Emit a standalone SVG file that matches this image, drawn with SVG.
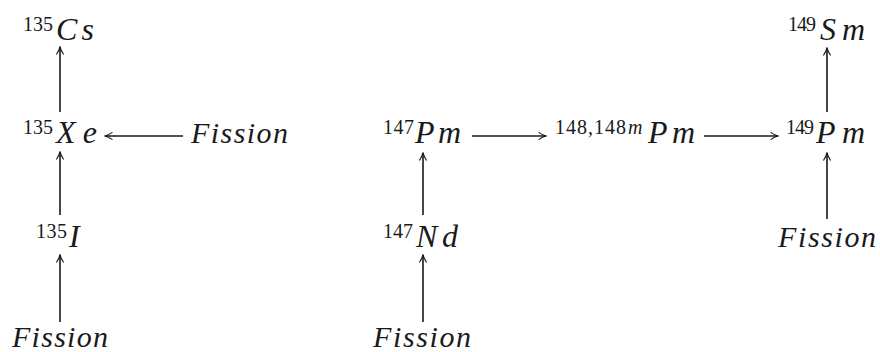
<svg xmlns="http://www.w3.org/2000/svg" width="880" height="352" viewBox="0 0 880 352">
  <style>
    text { font-family: 'Liberation Serif', 'Times New Roman', 'DejaVu Serif', serif; fill: #1a1a1a; }
    .m { font-style: italic; font-size: 30px; }
    .w { font-style: italic; font-size: 32px; }
    .s { font-size: 20px; }
    .si { font-style: italic; font-size: 20px; }
    .c line { stroke: #1a1a1a; stroke-width: 1.6; marker-end: url(#ah); }
  </style>
  <defs>
    <marker id="ah" viewBox="-9 -5 10 10" refX="0" refY="0" markerWidth="10" markerHeight="10" markerUnits="userSpaceOnUse" orient="auto">
      <path d="M-7.5,-3.6 Q-3,-0.8 0,0 Q-3,0.8 -7.5,3.6" fill="none" stroke="#1a1a1a" stroke-width="1.1"/>
    </marker>
  </defs>
  <rect width="880" height="352" fill="#ffffff"/>

  <g id="cs135">
    <text class="s" x="23" y="31" textLength="30" lengthAdjust="spacing">135</text>
    <text class="w" x="56" y="40" textLength="38" lengthAdjust="spacing">Cs</text>
  </g>
  <g id="xe135">
    <text class="s" x="23" y="134" textLength="30" lengthAdjust="spacing">135</text>
    <text class="w" x="56" y="143" textLength="41" lengthAdjust="spacing">Xe</text>
  </g>
  <g id="fission-xe">
    <text class="m" x="191" y="143" textLength="97" lengthAdjust="spacing">Fission</text>
  </g>
  <g id="i135">
    <text class="s" x="36" y="238" textLength="31" lengthAdjust="spacing">135</text>
    <text class="w" x="69" y="247">I</text>
  </g>
  <g id="fission-i">
    <text class="m" x="12" y="347" textLength="96" lengthAdjust="spacing">Fission</text>
  </g>

  <g id="pm147">
    <text class="s" x="383" y="134" textLength="31" lengthAdjust="spacing">147</text>
    <text class="w" x="415" y="143" textLength="46" lengthAdjust="spacing">Pm</text>
  </g>
  <g id="pm148">
    <text class="s" x="555" y="134" textLength="71" lengthAdjust="spacing">148,148</text>
    <text class="si" x="628" y="134" textLength="17" lengthAdjust="spacing">m</text>
    <text class="w" x="648" y="143" textLength="47" lengthAdjust="spacing">Pm</text>
  </g>
  <g id="pm149">
    <text class="s" x="786" y="134" textLength="28" lengthAdjust="spacing">149</text>
    <text class="w" x="816" y="143" textLength="49" lengthAdjust="spacing">Pm</text>
  </g>
  <g id="sm149">
    <text class="s" x="788" y="31" textLength="28" lengthAdjust="spacing">149</text>
    <text class="w" x="820" y="40" textLength="45" lengthAdjust="spacing">Sm</text>
  </g>
  <g id="nd147">
    <text class="s" x="383" y="238" textLength="30" lengthAdjust="spacing">147</text>
    <text class="w" x="416" y="247" textLength="42" lengthAdjust="spacing">Nd</text>
  </g>
  <g id="fission-nd">
    <text class="m" x="373" y="347" textLength="98" lengthAdjust="spacing">Fission</text>
  </g>
  <g id="fission-pm149">
    <text class="m" x="778" y="247" textLength="98" lengthAdjust="spacing">Fission</text>
  </g>

  <g id="connectors" class="c">
    <line x1="60" y1="112" x2="60" y2="47"/>
    <line x1="60" y1="215" x2="60" y2="152"/>
    <line x1="60" y1="322" x2="60" y2="255"/>
    <line x1="183" y1="136" x2="105" y2="136"/>
    <line x1="423" y1="215" x2="423" y2="153"/>
    <line x1="423" y1="322" x2="423" y2="255"/>
    <line x1="472" y1="136" x2="546" y2="136"/>
    <line x1="704" y1="136" x2="778" y2="136"/>
    <line x1="827" y1="112" x2="827" y2="48"/>
    <line x1="827" y1="219" x2="827" y2="153"/>
  </g>
</svg>
